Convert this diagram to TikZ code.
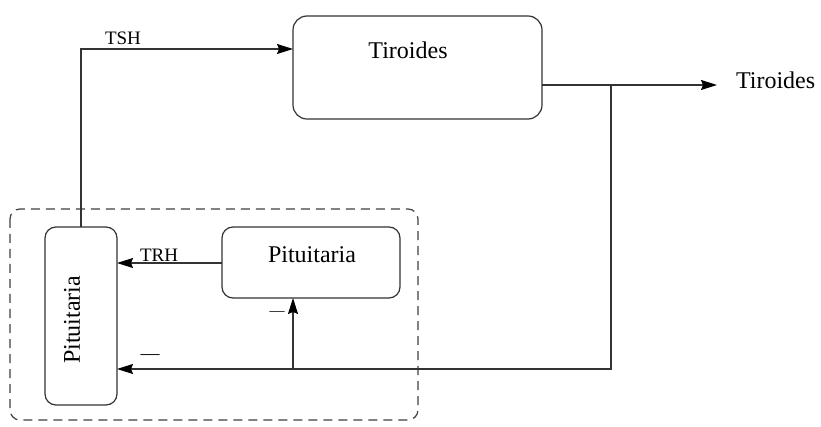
\documentclass[tikz,border=0pt]{standalone}
\usepackage{fontspec}
\setmainfont{Liberation Serif}
\usetikzlibrary{arrows.meta}
\begin{document}
\begin{tikzpicture}[x=1pt,y=-1pt,
  line width=1.2pt,
  every node/.style={inner sep=0pt,outer sep=0pt},
  blk/.style={draw=black!80,rounded corners=11pt},
  arr/.style={draw=black!80,-{Stealth[length=16pt,width=10pt,inset=2pt,color=black]}},
  lbl/.style={font=\fontsize{19}{19}\selectfont},
  txt/.style={font=\fontsize{24}{24}\selectfont}]
\useasboundingbox (0,0) rectangle (821,427);
\fill[white] (0,0) rectangle (821,427);

% gland boxes
\node[blk,rounded corners=14pt,minimum width=249pt,minimum height=103pt] (tir) at (417.5,67.5) {};
\node[txt] at (408,50) {Tiroides};
\node[blk,minimum width=72pt,minimum height=178pt] (lp) at (81,316) {};
\node[txt,rotate=90] at (72,320) {Pituitaria};
\node[blk,minimum width=178pt,minimum height=71pt] (rp) at (311,262.5) {};
\node[txt] at (312,255) {Pituitaria};

% dashed enclosure
\draw[black!75,dash pattern=on 9pt off 6pt,rounded corners=10pt] (10,209) rectangle (418,420);

% output
\node[txt,anchor=west] (tout) at (736,80) {Tiroides};
\coordinate (tip) at (717,85);
\coordinate (fb) at (611,85);
\draw[arr] (tir.east |- tip) -- (tip);

% TSH
\draw[arr] (lp.north) |- (tir.west |- 0,49);
\node[lbl,anchor=south west] at (105,45) {TSH};

% TRH
\draw[arr] (rp.west |- 0,263) -- (lp.east |- 0,263);
\node[lbl,anchor=south west] at (140,262) {TRH};

% negative feedback
\coordinate (br) at (293,369);
\draw[arr] (fb) |- (lp.east |- br);
\draw[arr] (br) -- (rp.south -| br);
\node[lbl] at (150,357) {—};
\node[lbl,font=\fontsize{15}{15}\selectfont] at (277,314) {—};
\end{tikzpicture}
\end{document}
